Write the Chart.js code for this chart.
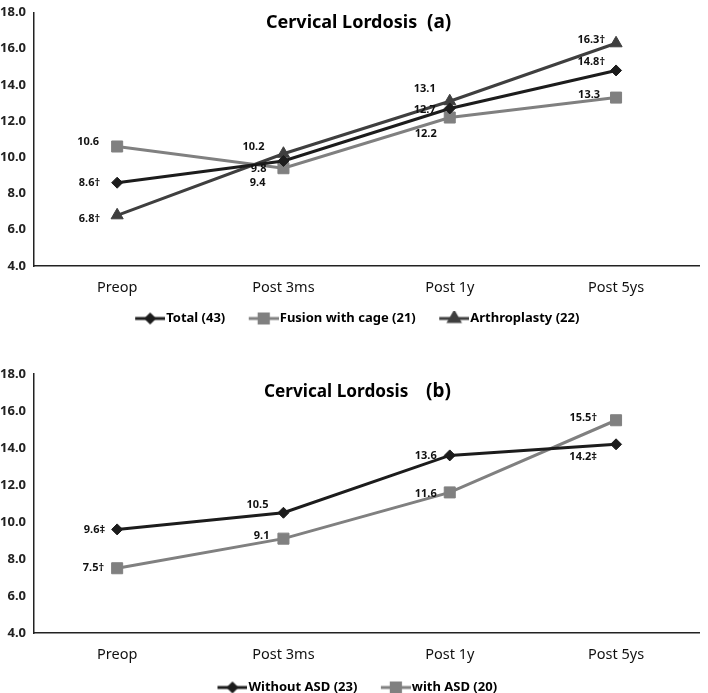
<!DOCTYPE html>
<html><head><meta charset="utf-8">
<script src="https://cdn.jsdelivr.net/npm/chart.js@4/dist/chart.umd.min.js"></script>
<style>
html,body{margin:0;padding:0;background:#fff;overflow:hidden;width:708px;height:693px;}
#wa{position:absolute;left:0;top:-2px;width:708px;height:337px;}
#wb{position:absolute;left:0;top:330px;width:708px;height:374px;}
</style></head><body>
<div id="wa"><canvas id="ca"></canvas></div>
<div id="wb"><canvas id="cb"></canvas></div>
<script>
// ---- data ----
const categories = ['Preop', 'Post 3ms', 'Post 1y', 'Post 5ys'];
const yTickValues = [4, 6, 8, 10, 12, 14, 16, 18];

const totalA = [8.6, 9.8, 12.7, 14.8];
const fusionA = [10.6, 9.4, 12.2, 13.3];
const arthroA = [6.8, 10.2, 13.1, 16.3];
const totalALabels = ['8.6†', '9.8', '12.7', '14.8†'];
const fusionALabels = ['10.6', '9.4', '12.2', '13.3'];
const arthroALabels = ['6.8†', '10.2', '13.1', '16.3†'];

const withoutB = [9.6, 10.5, 13.6, 14.2];
const withB = [7.5, 9.1, 11.6, 15.5];
const withoutBLabels = ['9.6‡', '10.5', '13.6', '14.2‡'];
const withBLabels = ['7.5†', '9.1', '11.6', '15.5†'];

// ---- styles ----
const FONT = '"Noto Sans", "Open Sans", sans-serif';
const offsetsA = [
  [[-17, 0], [-17, 8], [-14, 1], [-11, -9]],
  [[-18, -5], [-18, 15], [-13, 16], [-16, -3]],
  [[-17, 4], [-19, -7], [-14, -12], [-11, -3]]
];
const offsetsB = [
  [[-12, 0], [-15, -8], [-13, 0], [-19, 13]],
  [[-13, 0], [-14, -3], [-13, 1], [-19, -2]]
];

function legendIcon(color, style, radius) {
  const c = document.createElement('canvas');
  c.width = 44; c.height = 16;
  const x = c.getContext('2d');
  x.strokeStyle = color; x.lineWidth = 3;
  x.beginPath(); x.moveTo(14, 8); x.lineTo(44, 8); x.stroke();
  x.fillStyle = color; x.strokeStyle = color;
  Chart.helpers.drawPoint(x, {pointStyle: style, radius: radius, borderWidth: 1, rotation: 0}, 29, 8);
  return c;
}

const annot = {
  id: 'annot',
  afterDatasetsDraw(chart, args, opts) {
    const ctx = chart.ctx;
    ctx.save();
    ctx.fillStyle = '#111';
    ctx.font = 'bold 11px ' + FONT;
    ctx.textAlign = 'right';
    ctx.textBaseline = 'middle';
    chart.data.datasets.forEach((ds, i) => {
      const meta = chart.getDatasetMeta(i);
      meta.data.forEach((pt, j) => {
        const off = opts.offsets[i][j];
        ctx.fillText(opts.labels[i][j], pt.x + off[0], pt.y + off[1]);
      });
    });
    ctx.font = 'bold ' + opts.titleSize + 'px ' + FONT;
    ctx.textAlign = 'left';
    ctx.textBaseline = 'alphabetic';
    ctx.fillStyle = '#000';
    ctx.fillText(opts.title, opts.titleX, opts.titleY);
    ctx.font = 'bold 19px ' + FONT;
    ctx.fillText(opts.tag, opts.tagX, opts.titleY);
    ctx.restore();
  }
};

function makeChart(id, datasets, labels, offsets, t, padTop, xHeight) {
  const icons = datasets.map(d => legendIcon(d.borderColor, d.pointStyle, d.legendRadius));
  return new Chart(document.getElementById(id), {
    type: 'line',
    data: {labels: categories, datasets: datasets},
    plugins: [annot],
    options: {
      responsive: true,
      maintainAspectRatio: false,
      animation: false,
      layout: {padding: {left: 0, right: 2, top: padTop, bottom: 0}},
      plugins: {
        title: {display: false},
        tooltip: {enabled: false},
        annot: Object.assign({labels: labels, offsets: offsets}, t),
        legend: {
          position: 'bottom',
          labels: {
            usePointStyle: true,
            pointStyleWidth: 33,
            padding: 15,
            color: '#111',
            font: {family: FONT, size: 13, weight: 'bold'},
            generateLabels(chart) {
              return chart.data.datasets.map((ds, i) => ({
                text: ds.label, pointStyle: icons[i], fillStyle: ds.borderColor,
                strokeStyle: ds.borderColor, lineWidth: 0, hidden: false, datasetIndex: i
              }));
            }
          }
        }
      },
      scales: {
        x: {
          offset: true,
          grid: {display: false, drawTicks: false},
          border: {display: true, color: '#222', width: 1.5},
          ticks: {color: '#111', padding: 15, font: {family: FONT, size: 14.5, lineHeight: 1}},
          afterFit(s) { s.height = xHeight; }
        },
        y: {
          min: 4, max: 18,
          afterBuildTicks(s) { s.ticks = yTickValues.map(v => ({value: v})); },
          grid: {display: false, drawTicks: false},
          border: {display: true, color: '#222', width: 1.5},
          ticks: {color: '#222', padding: 8, font: {family: FONT, size: 13, weight: 'bold', lineHeight: 1},
                  callback: v => Number(v).toFixed(1)},
          afterFit(s) { s.width = 34; }
        }
      }
    }
  });
}

function ds(label, data, color, style, radius, legendRadius) {
  return {label: label, data: data, borderColor: color, backgroundColor: color,
    pointBackgroundColor: color, pointBorderColor: color, borderWidth: 3,
    pointStyle: style, pointRadius: radius, pointHoverRadius: radius, pointBorderWidth: 1,
    legendRadius: legendRadius, tension: 0, fill: false};
}

makeChart('ca', [
  ds('Total (43)', totalA, '#1c1c1c', 'rectRot', 5.5, 4),
  ds('Fusion with cage (21)', fusionA, '#808080', 'rect', 7.8, 6.5),
  ds('Arthroplasty (22)', arthroA, '#3f3f3f', 'triangle', 7, 6)
], [totalALabels, fusionALabels, arthroALabels], offsetsA,
  {title: 'Cervical Lordosis', tag: '(a)', titleSize: 18, titleX: 266, tagX: 427, titleY: 30}, 0, 31);

makeChart('cb', [
  ds('Without ASD (23)', withoutB, '#1c1c1c', 'rectRot', 5.5, 4),
  ds('with ASD (20)', withB, '#808080', 'rect', 7.8, 6.5)
], [withoutBLabels, withBLabels], offsetsB,
  {title: 'Cervical Lordosis', tag: '(b)', titleSize: 17.2, titleX: 264, tagX: 426, titleY: 67}, 44, 33);
</script>
</body></html>
